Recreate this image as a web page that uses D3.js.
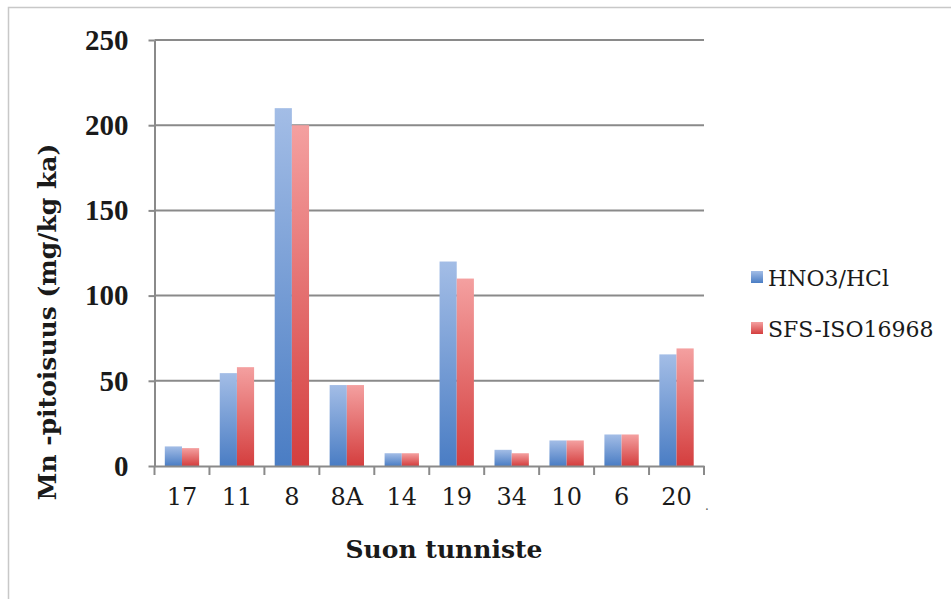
<!DOCTYPE html>
<html>
<head>
<meta charset="utf-8">
<script src="https://cdn.jsdelivr.net/npm/d3@7"></script>
<style>
  html, body { margin: 0; padding: 0; background: #fff; }
  svg { display: block; }
</style>
</head>
<body>
<svg id="chart" width="951" height="599"></svg>
<script>
// Mn content per peatland site, two extraction methods
const categories = ["17", "11", "8", "8A", "14", "19", "34", "10", "6", "20"];
const seriesNames = ["HNO3/HCl", "SFS-ISO16968"];
const hno3Values = [11.5, 54.5, 210, 47.5, 7.5, 120, 9.5, 15, 18.5, 65.5];
const sfsValues = [10.5, 58, 200, 47.5, 7.5, 110, 7.5, 15, 18.5, 69];
const yTicks = [0, 50, 100, 150, 200, 250];

const svg = d3.select("#chart");
const margin = { left: 154.5, right: 951 - 704, top: 40, bottom: 599 - 466 };
const W = 951, H = 599;
const serif = "'DejaVu Serif', serif";

// outer chart frame
svg.append("rect")
  .attr("x", 8.5).attr("y", 7.5)
  .attr("width", 960).attr("height", 620)
  .attr("fill", "none").attr("stroke", "#c8c8c8").attr("stroke-width", 1.5);

const x0 = d3.scaleBand()
  .domain(categories)
  .range([margin.left, W - margin.right])
  .paddingInner(0).paddingOuter(0);

const x1 = d3.scaleBand()
  .domain(seriesNames)
  .range([0, x0.bandwidth()])
  .paddingOuter(0.6).paddingInner(0);

const y = d3.scaleLinear()
  .domain([0, 250])
  .range([H - margin.bottom, margin.top]);

// gradients for the bars
const defs = svg.append("defs");
const gradSpecs = [
  { id: "g-blue", top: "#a3bde6", bottom: "#4a7dc4" },
  { id: "g-red", top: "#f4a0a0", bottom: "#d43e3e" }
];
gradSpecs.forEach(g => {
  const lg = defs.append("linearGradient").attr("id", g.id)
    .attr("x1", 0).attr("y1", 0).attr("x2", 0).attr("y2", 1);
  lg.append("stop").attr("offset", "0%").attr("stop-color", g.top);
  lg.append("stop").attr("offset", "100%").attr("stop-color", g.bottom);
});
const fills = { "HNO3/HCl": "url(#g-blue)", "SFS-ISO16968": "url(#g-red)" };

// horizontal gridlines
svg.append("g")
  .selectAll("line")
  .data(yTicks.filter(d => d > 0))
  .join("line")
  .attr("x1", margin.left).attr("x2", W - margin.right)
  .attr("y1", d => y(d)).attr("y2", d => y(d))
  .attr("stroke", "#8a8a8a").attr("stroke-width", 2);

// bars
const rows = categories.map((c, i) => ({
  cat: c,
  vals: [
    { key: seriesNames[0], v: hno3Values[i] },
    { key: seriesNames[1], v: sfsValues[i] }
  ]
}));

const groups = svg.append("g")
  .selectAll("g")
  .data(rows)
  .join("g")
  .attr("transform", d => `translate(${x0(d.cat)},0)`);

groups.selectAll("rect")
  .data(d => d.vals)
  .join("rect")
  .attr("x", d => x1(d.key))
  .attr("y", d => y(d.v))
  .attr("width", x1.bandwidth())
  .attr("height", d => y(0) - y(d.v))
  .attr("fill", d => fills[d.key]);

// y axis
const yAxis = d3.axisLeft(y).tickValues(yTicks).tickSize(6).tickPadding(20).tickSizeOuter(0);
const gy = svg.append("g")
  .attr("transform", `translate(${margin.left},0)`)
  .call(yAxis);
gy.select(".domain").attr("stroke", "#8a8a8a").attr("stroke-width", 2);
gy.selectAll(".tick line").attr("stroke", "#8a8a8a").attr("stroke-width", 2);
gy.selectAll(".tick text")
  .attr("font-family", "'Liberation Serif', serif")
  .attr("font-weight", "bold")
  .attr("font-size", 29)
  .attr("fill", "#1a1a1a");

// x axis
const xAxis = d3.axisBottom(x0).tickSize(0).tickPadding(22);
const gx = svg.append("g")
  .attr("transform", `translate(0,${y(0)})`)
  .call(xAxis);
gx.select(".domain").attr("stroke", "#8a8a8a").attr("stroke-width", 2);
gx.selectAll(".tick text")
  .attr("font-family", serif)
  .attr("font-size", 24)
  .attr("fill", "#1a1a1a");

// trailing mark after the last category label
gx.append("text")
  .attr("x", x0(categories[categories.length - 1]) + x0.bandwidth() + 3)
  .attr("y", 44)
  .attr("text-anchor", "middle")
  .attr("font-family", serif)
  .attr("font-size", 12)
  .attr("fill", "#555")
  .text(".");

// category boundary ticks
const boundaries = categories.map(c => x0(c)).concat([x0(categories[categories.length - 1]) + x0.bandwidth()]);
gx.append("g")
  .selectAll("line")
  .data(boundaries)
  .join("line")
  .attr("x1", d => d).attr("x2", d => d)
  .attr("y1", 0).attr("y2", 9)
  .attr("stroke", "#8a8a8a").attr("stroke-width", 2);

// axis titles
svg.append("text")
  .attr("x", 444).attr("y", 558)
  .attr("text-anchor", "middle")
  .attr("font-family", serif)
  .attr("font-weight", "bold")
  .attr("font-size", 25)
  .attr("fill", "#1a1a1a")
  .text("Suon tunniste");

svg.append("text")
  .attr("transform", "translate(56,322) rotate(-90)")
  .attr("text-anchor", "middle")
  .attr("font-family", serif)
  .attr("font-weight", "bold")
  .attr("font-size", 25)
  .attr("fill", "#1a1a1a")
  .text("Mn -pitoisuus (mg/kg ka)");

// legend
const legend = svg.append("g")
  .selectAll("g")
  .data(seriesNames)
  .join("g")
  .attr("transform", (d, i) => `translate(751,${271 + i * 51})`);
legend.append("rect")
  .attr("width", 12).attr("height", 12)
  .attr("fill", d => fills[d]);
legend.append("text")
  .attr("x", 17).attr("y", 15)
  .attr("font-family", serif)
  .attr("font-size", 22)
  .attr("fill", "#1a1a1a")
  .text(d => d);
</script>
</body>
</html>
